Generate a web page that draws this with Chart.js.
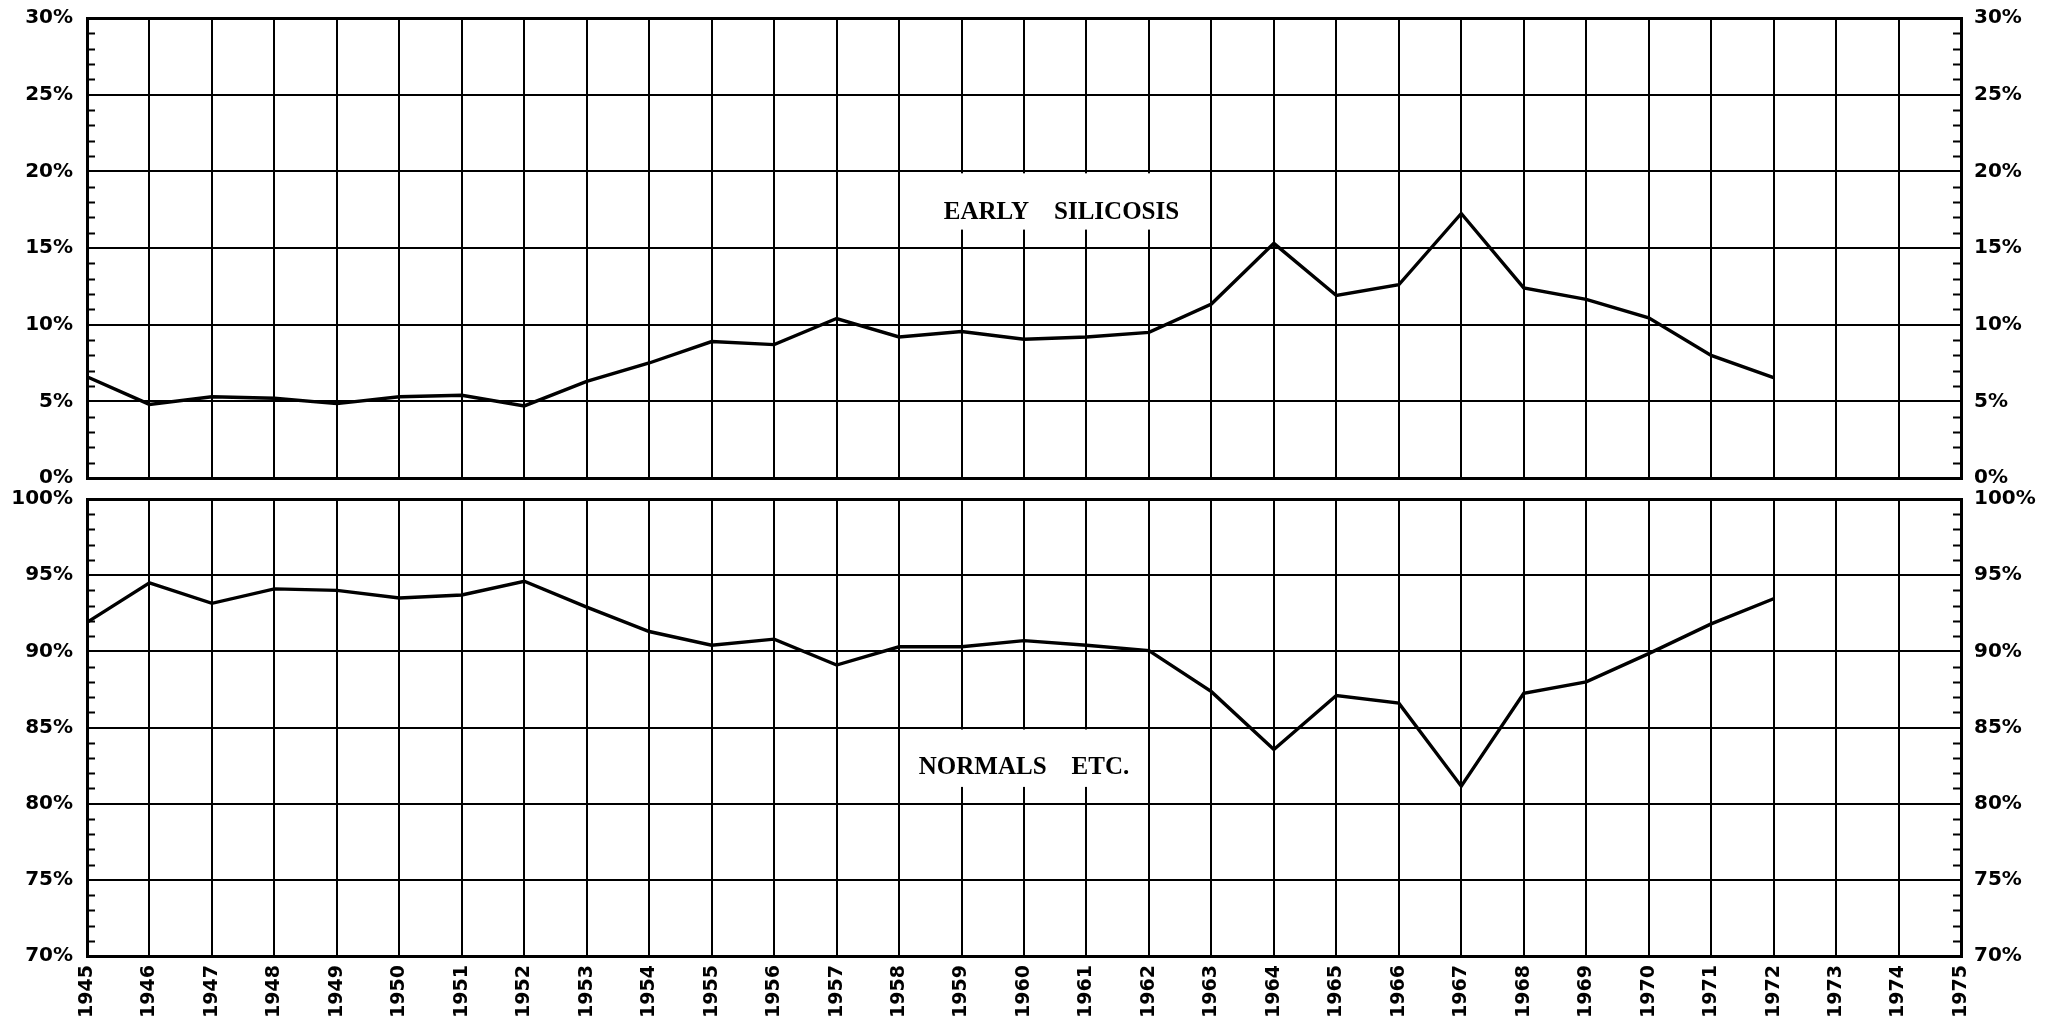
<!DOCTYPE html>
<html>
<head>
<meta charset="utf-8">
<script src="https://cdn.jsdelivr.net/npm/chart.js@4.4.1/dist/chart.umd.min.js"></script>
<style>
  html, body { margin: 0; padding: 0; background: #ffffff; }
  body { width: 2054px; height: 1023px; position: relative; overflow: hidden; }
  .box { position: absolute; left: 0; width: 2054px; }
  #topBox { top: 0; height: 520px; }
  #botBox { top: 480px; height: 552px; }
</style>
</head>
<body>
<div class="box" id="topBox"><canvas id="topChart"></canvas></div>
<div class="box" id="botBox"><canvas id="botChart"></canvas></div>
<script>
// ---- data ----
const years = ['1945','1946','1947','1948','1949','1950','1951','1952','1953','1954',
               '1955','1956','1957','1958','1959','1960','1961','1962','1963','1964',
               '1965','1966','1967','1968','1969','1970','1971','1972','1973','1974','1975'];
const earlySilicosis = [6.6, 4.8, 5.3, 5.2, 4.85, 5.3, 5.4, 4.7, 6.3, 7.5,
                        8.9, 8.7, 10.4, 9.2, 9.55, 9.05, 9.2, 9.5, 11.35, 15.3,
                        11.9, 12.6, 17.25, 12.4, 11.65, 10.45, 8.0, 6.55, null, null, null];
const normalsEtc = [91.9, 94.5, 93.15, 94.1, 94.0, 93.5, 93.7, 94.6, 92.9, 91.3,
                    90.4, 90.8, 89.1, 90.3, 90.3, 90.7, 90.4, 90.05, 87.35, 83.55,
                    87.1, 86.6, 81.15, 87.25, 88.0, 89.85, 91.8, 93.45, null, null, null];
const topRange = [0, 30];
const bottomRange = [70, 100];
const panelLabels = ['EARLY    SILICOSIS', 'NORMALS    ETC.'];

const tickFont = { family: 'DejaVu Sans', weight: 'bold', size: 20 };
const yearFont = { family: 'DejaVu Sans', weight: 'bold', size: 19 };

function panelPlugin(opts) {
  return {
    id: 'panelDecor',
    beforeDatasetsDraw(chart) {
      const c = chart.ctx, x = chart.scales.x, y = chart.scales.y;
      const x0 = x.getPixelForValue(opts.box[0]) + 2;
      const x1 = x.getPixelForValue(opts.box[1]) - 2;
      const y0 = y.getPixelForValue(opts.box[2]) + 2;
      const y1 = y.getPixelForValue(opts.box[3]);
      c.save();
      c.fillStyle = '#ffffff';
      c.fillRect(x0, y0, x1 - x0, y1 - y0);
      c.restore();
    },
    afterDraw(chart) {
      const c = chart.ctx, x = chart.scales.x, y = chart.scales.y;
      const area = chart.chartArea;
      c.save();
      c.strokeStyle = '#000';
      c.lineWidth = 2;
      for (let v = opts.min + 1; v < opts.max; v++) {
        if (v % 5 === 0) continue;
        const py = Math.round(y.getPixelForValue(v)) + 0.5;
        c.beginPath();
        c.moveTo(area.left, py); c.lineTo(area.left + 8, py);
        c.moveTo(area.right - 8, py); c.lineTo(area.right, py);
        c.stroke();
      }
      c.fillStyle = '#000';
      c.font = 'bold 25px "Liberation Serif"';
      c.textAlign = 'center';
      c.textBaseline = 'middle';
      c.fillText(opts.label, x.getPixelForValue(opts.labelPos[0]), y.getPixelForValue(opts.labelPos[1]));
      c.restore();
    }
  };
}

function makeChart(id, values, range, showYears, opts) {
  const lastIdx = years.length - 1;
  return new Chart(document.getElementById(id), {
    type: 'line',
    data: {
      labels: years,
      datasets: [{
        data: values,
        borderColor: '#000',
        borderWidth: 3.4,
        pointRadius: 0,
        tension: 0,
        fill: false,
        spanGaps: false
      }]
    },
    options: {
      responsive: true,
      maintainAspectRatio: false,
      animation: false,
      events: [],
      layout: { padding: { top: 0, bottom: opts.padBottom, left: 0, right: 0 } },
      plugins: { legend: { display: false }, tooltip: { enabled: false }, title: { display: false } },
      scales: {
        x: {
          type: 'category',
          offset: false,
          grid: {
            color: '#000',
            lineWidth: (ctx) => (ctx.index === 0 || ctx.index === lastIdx) ? 3 : 2,
            drawTicks: false
          },
          border: { display: true, color: '#000', width: 3 },
          ticks: {
            display: showYears,
            autoSkip: false,
            minRotation: 90,
            maxRotation: 90,
            padding: 9,
            color: '#000',
            font: yearFont
          },
          afterFit: (s) => { s.height = showYears ? 62 : 0; }
        },
        y: {
          type: 'linear',
          position: 'left',
          min: range[0],
          max: range[1],
          grid: {
            color: '#000',
            lineWidth: (ctx) => (ctx.tick && (ctx.tick.value === range[1] || ctx.tick.value === range[0])) ? 3 : 2,
            drawTicks: false
          },
          border: { display: true, color: '#000', width: 3 },
          ticks: {
            stepSize: 5,
            padding: 14,
            color: '#000',
            font: tickFont,
            callback: (v) => v + '%'
          },
          afterFit: (s) => { s.width = 87; }
        },
        yRight: {
          type: 'linear',
          position: 'right',
          min: range[0],
          max: range[1],
          grid: { display: false, drawTicks: false },
          border: { display: true, color: '#000', width: 3 },
          ticks: {
            stepSize: 5,
            padding: 13,
            color: '#000',
            font: tickFont,
            callback: (v) => v + '%'
          },
          afterFit: (s) => { s.width = 93; }
        }
      }
    },
    plugins: [panelPlugin(opts)]
  });
}

// shift the container so the plot area starts at absTop, then tune the bottom padding
function place(chart, boxId, absTop, absBottom) {
  const box = document.getElementById(boxId);
  const off = absTop - chart.chartArea.top;
  box.style.top = off + 'px';
  for (let i = 0; i < 3; i++) {
    const a = chart.chartArea;
    const p = chart.options.layout.padding;
    p.bottom = Math.max(0, p.bottom + a.bottom - (absBottom - off));
    chart.update('none');
  }
}

const topChart = makeChart('topChart', earlySilicosis, topRange, false, {
  min: topRange[0], max: topRange[1],
  label: panelLabels[0],
  labelPos: [15.6, 17.3],
  box: [13, 18, 20, 16.2],
  padBottom: 36
});
const botChart = makeChart('botChart', normalsEtc, bottomRange, true, {
  min: bottomRange[0], max: bottomRange[1],
  label: panelLabels[1],
  labelPos: [15.0, 82.4],
  box: [13, 17, 85, 81.1],
  padBottom: 8
});
place(topChart, 'topBox', 18, 478);
place(botChart, 'botBox', 499, 956);
</script>
</body>
</html>
